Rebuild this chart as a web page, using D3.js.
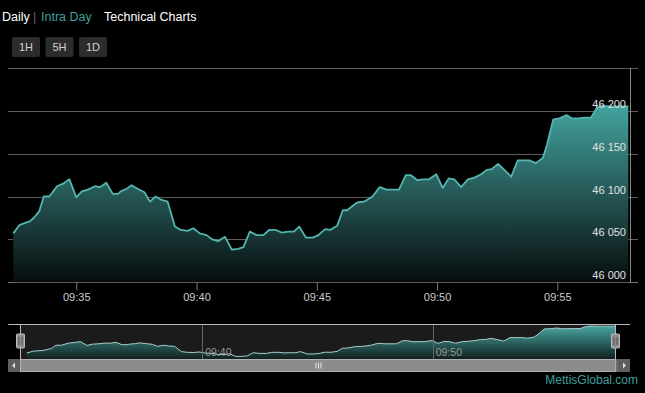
<!DOCTYPE html>
<html><head><meta charset="utf-8">
<script src="https://cdn.jsdelivr.net/npm/d3@7"></script>
<style>html,body{margin:0;padding:0;background:#000;overflow:hidden}svg{display:block}text{font-family:Arial,"Liberation Sans",sans-serif}</style>
</head><body>
<script>
const times = ["09:32:23","09:32:39","09:32:51","09:33:04","09:33:14","09:33:28","09:33:39","09:33:53","09:34:12","09:34:27",
"09:34:43","09:35:00","09:35:14","09:35:29","09:35:47","09:36:00","09:36:15","09:36:31","09:36:44","09:36:51",
"09:37:06","09:37:18","09:37:33","09:37:50","09:38:04","09:38:18","09:38:33","09:38:48","09:39:06","09:39:21",
"09:39:38","09:39:52","09:40:08","09:40:25","09:40:39","09:40:54","09:41:11","09:41:28","09:41:44","09:41:57",
"09:42:13","09:42:30","09:42:47","09:43:01","09:43:18","09:43:32","09:43:49","09:44:03","09:44:16","09:44:33",
"09:44:50","09:45:04","09:45:21","09:45:33","09:45:51","09:46:05","09:46:16","09:46:29","09:46:41","09:46:58",
"09:47:19","09:47:37","09:47:54","09:48:09","09:48:25","09:48:42","09:48:54","09:49:11","09:49:25","09:49:40",
"09:49:58","09:50:14","09:50:29","09:50:43","09:51:00","09:51:17","09:51:33","09:51:50","09:52:04","09:52:17",
"09:52:32","09:52:48","09:53:05","09:53:21","09:53:38","09:53:50","09:54:07","09:54:24","09:54:34","09:54:50",
"09:55:05","09:55:23","09:55:37","09:55:52","09:56:07","09:56:24","09:56:38","09:56:52","09:57:07","09:57:22",
"09:57:37","09:57:57"];
const values = [46057,46067,46069,46071,46075,46083,46100,46100,46112,46115,
46120,46099,46106,46108,46112,46111,46116,46103,46103,46106,
46109,46113,46109,46105,46094,46100,46096,46094,46065,46061,
46060,46063,46057,46055,46050,46048,46053,46038,46039,46041,
46059,46055,46055,46061,46061,46058,46059,46059,46065,46052,
46052,46055,46062,46061,46066,46084,46084,46089,46093,46094,
46100,46111,46108,46108,46108,46125,46125,46119,46120,46120,
46126,46110,46121,46120,46111,46120,46122,46126,46131,46132,
46138,46131,46123,46142,46142,46142,46139,46145,46160,46190,
46191,46195,46191,46191,46192,46192,46203,46206,46205,46205,
46205,46205];
const yTicks = [46000, 46050, 46100, 46150, 46200, 46250];
const yLabelTicks = [46000, 46050, 46100, 46150, 46200];
const rangeButtons = ["1H", "5H", "1D"];
const navTickLabels = ["09:40", "09:50"];

const parse = d3.timeParse("%H:%M:%S");
const data = times.map((t, i) => ({t: parse(t), v: values[i]}));

const W = 645, H = 393;
const svg = d3.select("body").append("svg").attr("width", W).attr("height", H);
svg.append("rect").attr("width", W).attr("height", H).attr("fill", "#000");

const defs = svg.append("defs");
const g1 = defs.append("linearGradient").attr("id", "mainGrad").attr("gradientUnits", "userSpaceOnUse")
  .attr("x1", 0).attr("y1", 100).attr("x2", 0).attr("y2", 282);
g1.append("stop").attr("offset", 0).attr("stop-color", "#45a8a3");
g1.append("stop").attr("offset", 1).attr("stop-color", "#070c0d");
const g2 = defs.append("linearGradient").attr("id", "navGrad").attr("gradientUnits", "userSpaceOnUse")
  .attr("x1", 0).attr("y1", 325).attr("x2", 0).attr("y2", 359);
g2.append("stop").attr("offset", 0).attr("stop-color", "#4aaaa5");
g2.append("stop").attr("offset", 1).attr("stop-color", "#10201f");

// Header
const hdr = svg.append("text").attr("y", 20.5).attr("font-size", 12.5);
svg.append("text").attr("x", 2).attr("y", 20.5).attr("font-size", 12.5).attr("fill", "#fff").text("Daily");
svg.append("text").attr("x", 33).attr("y", 20.5).attr("font-size", 12.5).attr("fill", "#666").text("|");
svg.append("text").attr("x", 41).attr("y", 20.5).attr("font-size", 12.5).attr("fill", "#3f9f9b").text("Intra Day");
svg.append("text").attr("x", 104).attr("y", 20.5).attr("font-size", 12.5).attr("fill", "#fff").text("Technical Charts");

// Range buttons
const btn = svg.selectAll("g.btn").data(rangeButtons).enter().append("g")
  .attr("transform", (d, i) => `translate(${12 + i * 33.5},37)`);
btn.append("rect").attr("width", 28).attr("height", 20).attr("rx", 2).attr("fill", "#2c2c2c");
btn.append("text").attr("x", 14).attr("y", 14).attr("text-anchor", "middle").attr("font-size", 11)
  .attr("fill", "#d0d0d0").text(d => d);

// Main scales
const x = d3.scaleTime().domain(d3.extent(data, d => d.t)).range([13.3, 628.3]);
const y = d3.scaleLinear().domain([46000, 46250]).range([282.3, 67.8]);
const fmt = d3.formatLocale({decimal: ".", thousands: " ", grouping: [3], currency: ["", ""]}).format(",d");

// Grid
svg.append("g").selectAll("line").data(yTicks).enter().append("line")
  .attr("x1", 8).attr("x2", 638)
  .attr("y1", d => Math.round(y(d)) + 0.5).attr("y2", d => Math.round(y(d)) + 0.5)
  .attr("stroke", d => d === 46000 ? "#777" : "#5c5c5c").attr("stroke-width", 1);

// Area + line
const area = d3.area().x(d => x(d.t)).y0(y(46000)).y1(d => y(d.v));
const line = d3.line().x(d => x(d.t)).y(d => y(d.v));
svg.append("path").datum(data).attr("d", area).attr("fill", "url(#mainGrad)");
svg.append("path").datum(data).attr("d", line).attr("fill", "none").attr("stroke", "#52b5b0").attr("stroke-width", 1.8).attr("stroke-linejoin", "round");

// Right border line
svg.append("line").attr("x1", 630.5).attr("x2", 630.5).attr("y1", 67.8).attr("y2", 282.3).attr("stroke", "#888");

// Y labels
svg.append("g").selectAll("text").data(yLabelTicks).enter().append("text")
  .attr("x", 626).attr("y", d => y(d) - 3).attr("text-anchor", "end").attr("font-size", 11)
  .attr("fill", "#e0e0e0").text(d => fmt(d));

// X axis
const xAxis = d3.axisBottom(x).ticks(d3.timeMinute.every(5)).tickFormat(d3.timeFormat("%H:%M")).tickSize(8).tickPadding(3);
const gx = svg.append("g").attr("transform", `translate(0,${Math.round(y(46000)) + 0.5})`).call(xAxis);
gx.select(".domain").remove();
gx.selectAll(".tick line").attr("stroke", "#777");
gx.selectAll(".tick text").attr("fill", "#cccccc").attr("font-size", 11).attr("font-family", "Arial, 'Liberation Sans', sans-serif");

// Navigator
const navTop = 324.5, navBot = 359;
const xn = d3.scaleTime().domain(d3.extent(data, d => d.t)).range([26.7, 616]);
const yn = d3.scaleLinear().domain(d3.extent(values)).range([356.5, 326]);
svg.append("rect").attr("x", 20).attr("y", navTop).attr("width", 596).attr("height", navBot - navTop).attr("fill", "#1b1b1b");
const navArea = d3.area().x(d => xn(d.t)).y0(navBot).y1(d => yn(d.v));
const navLine = d3.line().x(d => xn(d.t)).y(d => yn(d.v));
svg.append("path").datum(data).attr("d", navArea).attr("fill", "url(#navGrad)");
svg.append("path").datum(data).attr("d", navLine).attr("fill", "none").attr("stroke", "#a9cccb").attr("stroke-width", 1);
const navTicks = navTickLabels.map(s => d3.timeParse("%H:%M")(s));
svg.append("g").selectAll("line").data(navTicks).enter().append("line")
  .attr("x1", d => Math.round(xn(d)) + 0.5).attr("x2", d => Math.round(xn(d)) + 0.5)
  .attr("y1", navTop).attr("y2", navBot).attr("stroke", "#666");
svg.append("g").selectAll("text").data(navTicks).enter().append("text")
  .attr("x", d => xn(d) + 3).attr("y", 356).attr("font-size", 10.5).attr("fill", "#999")
  .text(d => d3.timeFormat("%H:%M")(d));
// outline
svg.append("line").attr("x1", 8).attr("x2", 630).attr("y1", navTop).attr("y2", navTop).attr("stroke", "#bbb");
svg.append("line").attr("x1", 20.5).attr("x2", 20.5).attr("y1", navTop).attr("y2", navBot).attr("stroke", "#bbb");
svg.append("line").attr("x1", 615.5).attr("x2", 615.5).attr("y1", navTop).attr("y2", navBot).attr("stroke", "#bbb");
// handles
[20.5, 615.5].forEach(hx => {
  svg.append("rect").attr("x", hx - 4).attr("y", 334).attr("width", 8).attr("height", 14).attr("rx", 1)
    .attr("fill", "#8e8e8e").attr("stroke", "#bbb").attr("stroke-width", 1);
  svg.append("line").attr("x1", hx - 1.5).attr("x2", hx - 1.5).attr("y1", 337).attr("y2", 345).attr("stroke", "#555");
  svg.append("line").attr("x1", hx + 1.5).attr("x2", hx + 1.5).attr("y1", 337).attr("y2", 345).attr("stroke", "#555");
});
// scrollbar
svg.append("rect").attr("x", 8).attr("y", 359).attr("width", 622).attr("height", 13).attr("fill", "#6e6e6e");
svg.append("rect").attr("x", 20.5).attr("y", 359.5).attr("width", 595).attr("height", 12).attr("fill", "#8c8c8c").attr("stroke", "#b0b0b0");
svg.append("rect").attr("x", 8).attr("y", 359).attr("width", 12).attr("height", 13).attr("fill", "#5e5e5e");
svg.append("rect").attr("x", 618).attr("y", 359).attr("width", 12).attr("height", 13).attr("fill", "#5e5e5e");
svg.append("path").attr("d", "M15,362.5 L12,365.5 L15,368.5 Z").attr("fill", "#ddd");
svg.append("path").attr("d", "M623,362.5 L626,365.5 L623,368.5 Z").attr("fill", "#ddd");
[-2.5, 0, 2.5].forEach(o => {
  svg.append("line").attr("x1", 318 + o + 0.5).attr("x2", 318 + o + 0.5).attr("y1", 362.5).attr("y2", 368.5).attr("stroke", "#e8e8e8");
});

// Watermark
svg.append("text").attr("x", 638).attr("y", 384).attr("text-anchor", "end").attr("font-size", 12)
  .attr("fill", "#3f9f9b").text("MettisGlobal.com");
</script>
</body></html>
